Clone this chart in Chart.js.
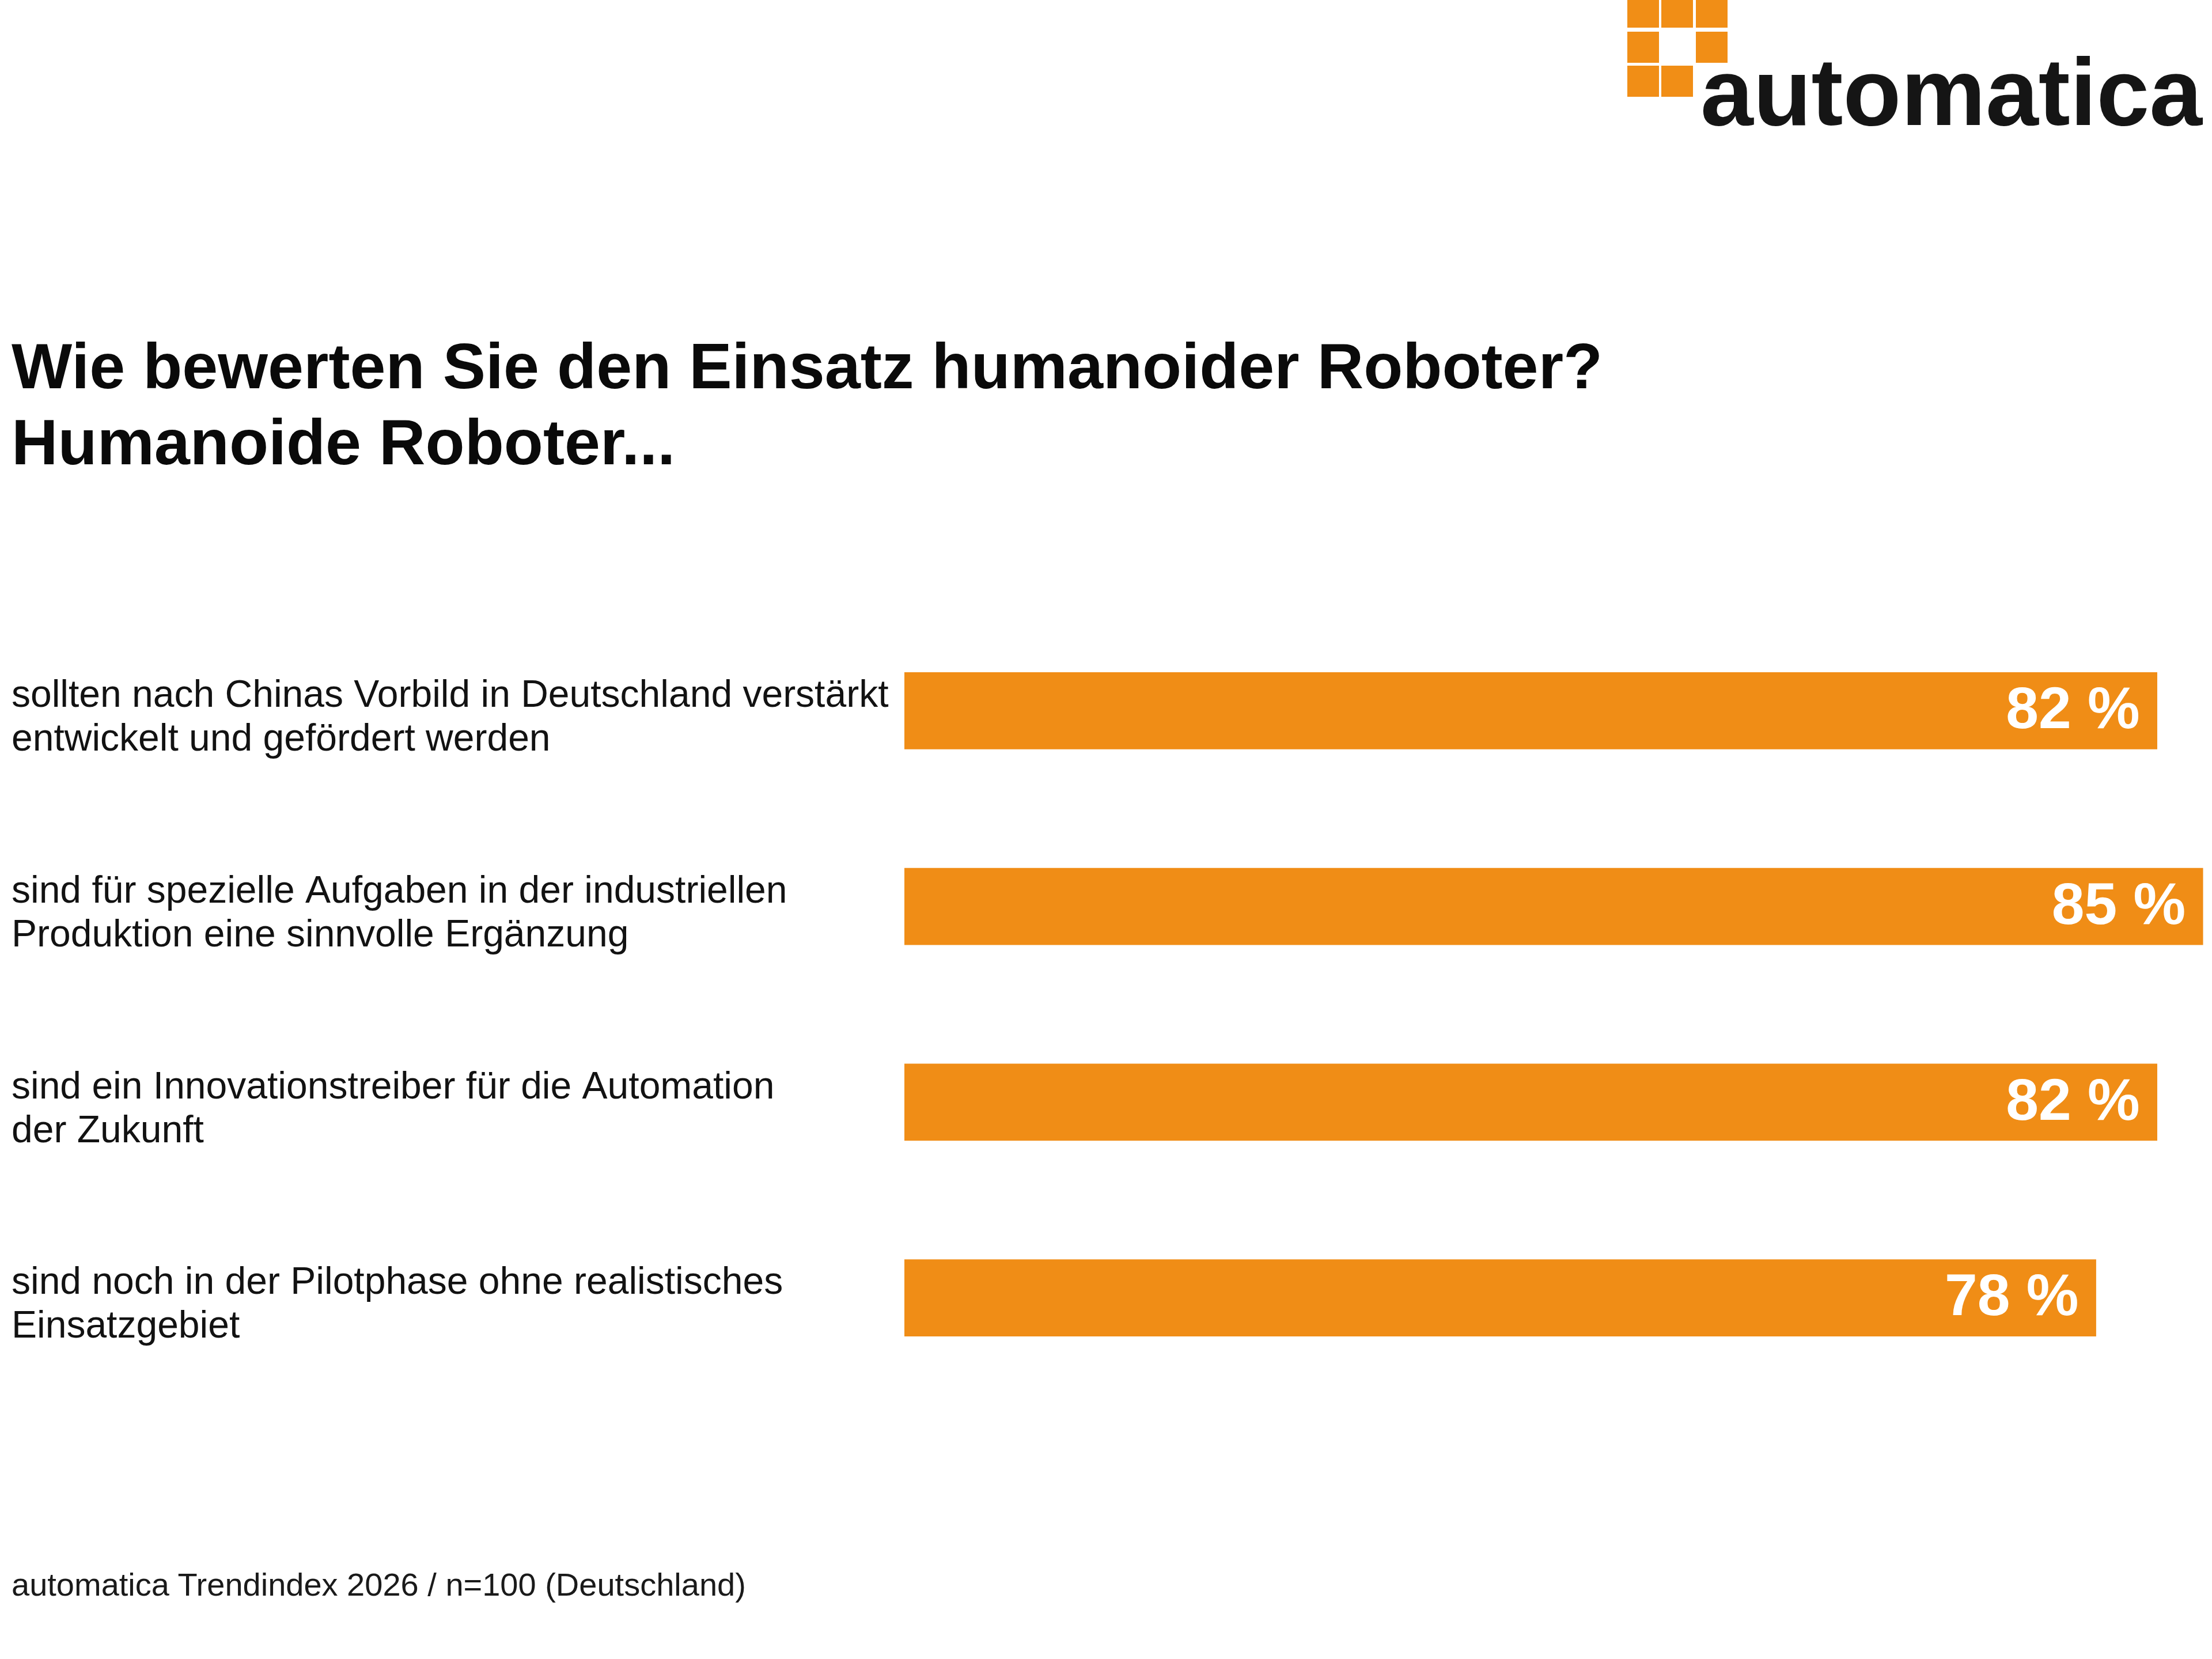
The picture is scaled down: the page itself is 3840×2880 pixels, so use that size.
<!DOCTYPE html>
<html lang="de">
<head>
<meta charset="utf-8">
<title>automatica Trendindex 2026 – Humanoide Roboter</title>
<script src="https://cdn.jsdelivr.net/npm/chart.js@4.4.1/dist/chart.umd.min.js"></script>
<style>
    html, body {
        margin: 0;
        padding: 0;
        background: #ffffff;
    }
    body {
        width: 3840px;
        height: 2880px;
        position: relative;
        overflow: hidden;
        font-family: 'Liberation Sans', Arial, Helvetica, sans-serif;
        color: #111111;
    }
    #chartWrap {
        position: absolute;
        left: 0;
        top: 0;
    }
    .logo-sq {
        position: absolute;
        width: 55px;
        height: 54px;
        background: #f18e16;
    }
    .logo-text {
        position: absolute;
        left: 2952px;
        top: 78px;
        font-size: 165px;
        line-height: 165px;
        font-weight: bold;
        color: #151515;
        white-space: nowrap;
    }
    .title {
        position: absolute;
        left: 20px;
        top: 570px;
        font-size: 111.5px;
        line-height: 132px;
        font-weight: bold;
        color: #0a0a0a;
        white-space: nowrap;
    }
    .footer {
        position: absolute;
        left: 20px;
        top: 2723px;
        font-size: 56px;
        line-height: 56px;
        color: #1a1a1a;
        white-space: nowrap;
    }
</style>
</head>
<body>

<div class="logo-sq" style="left:2825px; top:-6px;"></div>
<div class="logo-sq" style="left:2884px; top:-6px;"></div>
<div class="logo-sq" style="left:2944px; top:-6px;"></div>
<div class="logo-sq" style="left:2825px; top:55px;"></div>
<div class="logo-sq" style="left:2944px; top:55px;"></div>
<div class="logo-sq" style="left:2825px; top:114px;"></div>
<div class="logo-sq" style="left:2884px; top:114px;"></div>
<div class="logo-text">automatica</div>

<div class="title">Wie bewerten Sie den Einsatz humanoider Roboter?<br>Humanoide Roboter...</div>

<div id="chartWrap">
    <canvas id="robotChart" width="4222" height="2880"></canvas>
</div>

<div class="footer">automatica Trendindex 2026 / n=100 (Deutschland)</div>

<script>
// Aussagen (zweizeilig wie im Original)
var aussagen = [
    ['sollten nach Chinas Vorbild in Deutschland verstärkt', 'entwickelt und gefördert werden'],
    ['sind für spezielle Aufgaben in der industriellen', 'Produktion eine sinnvolle Ergänzung'],
    ['sind ein Innovationstreiber für die Automation', 'der Zukunft'],
    ['sind noch in der Pilotphase ohne realistisches', 'Einsatzgebiet']
];

// Zustimmung in Prozent
var zustimmung = [82, 85, 82, 78];

var orange = 'rgb(240, 141, 22)';
var schrift = "'Liberation Sans', Arial, Helvetica, sans-serif";

// Prozentwerte weiss ans Ende der Balken schreiben
var wertLabels = {
    id: 'wertLabels',
    afterDatasetsDraw: function (chart) {
        var ctx = chart.ctx;
        var meta = chart.getDatasetMeta(0);
        ctx.save();
        ctx.fillStyle = '#ffffff';
        ctx.font = 'bold 102px ' + schrift;
        ctx.textAlign = 'right';
        ctx.textBaseline = 'middle';
        meta.data.forEach(function (bar, i) {
            ctx.fillText(zustimmung[i] + ' %', bar.x - 30, bar.y + 2);
        });
        ctx.restore();
    }
};

document.addEventListener('DOMContentLoaded', function () {
    var ctx = document.getElementById('robotChart').getContext('2d');

    var robotChart = new Chart(ctx, {
        type: 'bar',
        data: {
            labels: aussagen,
            datasets: [{
                label: 'Zustimmung',
                data: zustimmung,
                backgroundColor: orange,
                borderWidth: 0,
                barThickness: 133
            }]
        },
        options: {
            indexAxis: 'y',
            responsive: false,
            animation: false,
            devicePixelRatio: 1,
            layout: {
                padding: { left: 20, right: 0, top: 1064, bottom: 457 }
            },
            plugins: {
                legend: { display: false },
                tooltip: { enabled: false }
            },
            scales: {
                x: {
                    display: false,
                    min: 0,
                    max: 100
                },
                y: {
                    afterFit: function (scale) {
                        scale.width = 1550;
                    },
                    grid: { display: false },
                    border: { display: false },
                    ticks: {
                        autoSkip: false,
                        crossAlign: 'far',
                        padding: 0,
                        labelOffset: 13,
                        color: '#121212',
                        font: {
                            family: schrift,
                            size: 66,
                            lineHeight: '76px'
                        }
                    }
                }
            }
        },
        plugins: [wertLabels]
    });
});
</script>
</body>
</html>
